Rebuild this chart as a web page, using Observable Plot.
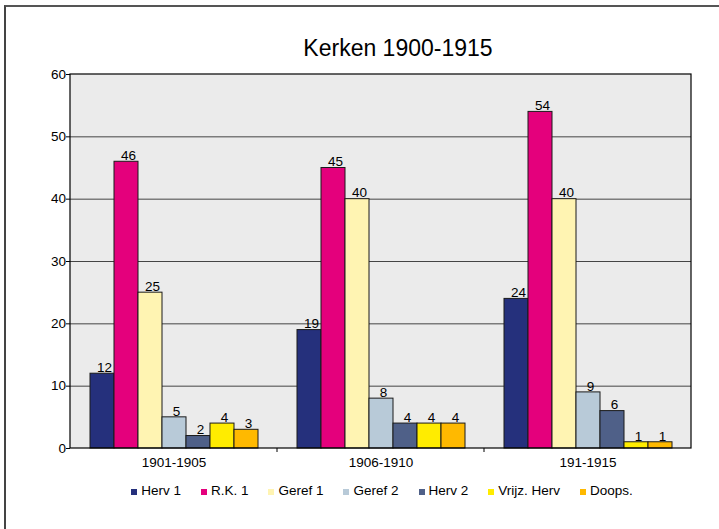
<!DOCTYPE html>
<html>
<head>
<meta charset="utf-8">
<script src="https://cdn.jsdelivr.net/npm/d3@7"></script>
<script src="https://cdn.jsdelivr.net/npm/@observablehq/plot@0.6"></script>
<style>
  html, body { margin: 0; padding: 0; background: #fff; }
  #wrap { position: relative; width: 719px; height: 529px; overflow: hidden; font-family: "Liberation Sans", Arial, sans-serif; }
  #border { position: absolute; left: 4px; top: 5px; width: 730px; height: 540px; border-left: 2px solid #444; border-top: 2px solid #555; box-sizing: border-box; }
  #title { position: absolute; top: 35px; left: 198px; width: 400px; text-align: center; font-size: 23px; color: #000; }
  #chart { position: absolute; left: 0; top: 0; }
  #legend { position: absolute; top: 483px; left: 82px; width: 600px; display: flex; justify-content: center; gap: 20px; font-size: 13.5px; color: #000; }
  #legend .item { display: flex; align-items: baseline; }
  #legend .sw { display: inline-block; width: 6px; height: 6px; margin-right: 4px; }
</style>
</head>
<body>
<div id="wrap">
  <div id="border"></div>
  <div id="chart"></div>
  <div id="title">Kerken 1900-1915</div>
  <div id="legend"></div>
</div>
<script>
const periods = ["1901-1905", "1906-1910", "191-1915"];
const series = ["Herv 1", "R.K. 1", "Geref 1", "Geref 2", "Herv 2", "Vrijz. Herv", "Doops."];
const colors = ["#25307c", "#e4007c", "#fff4b2", "#b8cad8", "#4f6088", "#ffec00", "#ffb900"];
const values1901 = [12, 46, 25, 5, 2, 4, 3];
const values1906 = [19, 45, 40, 8, 4, 4, 4];
const values1911 = [24, 54, 40, 9, 6, 1, 1];
const yTicks = [0, 10, 20, 30, 40, 50, 60];
const gridTicks = [10, 20, 30, 40, 50];

const valueRows = [values1901, values1906, values1911];
const data = [];
periods.forEach((p, i) => series.forEach((s, j) => data.push({period: p, series: s, value: valueRows[i][j]})));

const font = '"Liberation Sans", Arial, sans-serif';

const plot = Plot.plot({
  width: 719,
  height: 480,
  marginLeft: 69,
  marginRight: 28,
  marginTop: 74,
  marginBottom: 32,
  style: {fontFamily: font, fontSize: "13.5px", color: "#000", background: "transparent"},
  fx: {domain: periods, padding: 0, label: null, axis: "bottom", tickSize: 0, tickPadding: 9},
  x: {domain: series, paddingInner: 0, paddingOuter: 0.76, axis: null},
  y: {domain: [0, 60], ticks: yTicks, tickSize: 4, tickPadding: 0.5, label: null},
  color: {domain: series, range: colors},
  marks: [
    Plot.ruleY(gridTicks, {stroke: "#444", strokeWidth: 1, strokeOpacity: 1}),
    Plot.barY(data, {fx: "period", x: "series", y: "value", fill: "series", stroke: "#1a1a1a", strokeWidth: 1, inset: 0}),
    Plot.text(data, {fx: "period", x: "series", y: "value", text: d => String(d.value), dy: -6, dx: 2, fontSize: 13.5, fill: "#000"})
  ]
});

const svg = d3.select(plot);
const fx = plot.scale("fx");
const y = plot.scale("y");
const x0 = fx.apply(periods[0]);
const x1 = fx.apply(periods[periods.length - 1]) + fx.bandwidth;
const yTop = y.apply(60), yBot = y.apply(0);

// plot-area background behind the marks
const firstG = plot.querySelector("g");
const bg = document.createElementNS("http://www.w3.org/2000/svg", "rect");
bg.setAttribute("x", x0); bg.setAttribute("y", yTop);
bg.setAttribute("width", x1 - x0); bg.setAttribute("height", yBot - yTop);
bg.setAttribute("fill", "#ebebeb");
plot.insertBefore(bg, firstG);

// plot-area border
svg.append("rect")
  .attr("x", x0).attr("y", yTop).attr("width", x1 - x0).attr("height", yBot - yTop)
  .attr("fill", "none").attr("stroke", "#000").attr("stroke-width", 1.2);

// category boundary ticks
periods.slice(1).forEach(p => {
  const xp = fx.apply(p);
  svg.append("line").attr("x1", xp).attr("x2", xp).attr("y1", yBot).attr("y2", yBot + 4)
    .attr("stroke", "#000").attr("stroke-width", 1);
});

document.getElementById("chart").appendChild(plot);

const legend = document.getElementById("legend");
series.forEach((s, i) => {
  const item = document.createElement("div");
  item.className = "item";
  const sw = document.createElement("span");
  sw.className = "sw";
  sw.style.background = colors[i];
  const t = document.createElement("span");
  t.textContent = s;
  item.appendChild(sw); item.appendChild(t);
  legend.appendChild(item);
});
</script>
</body>
</html>
